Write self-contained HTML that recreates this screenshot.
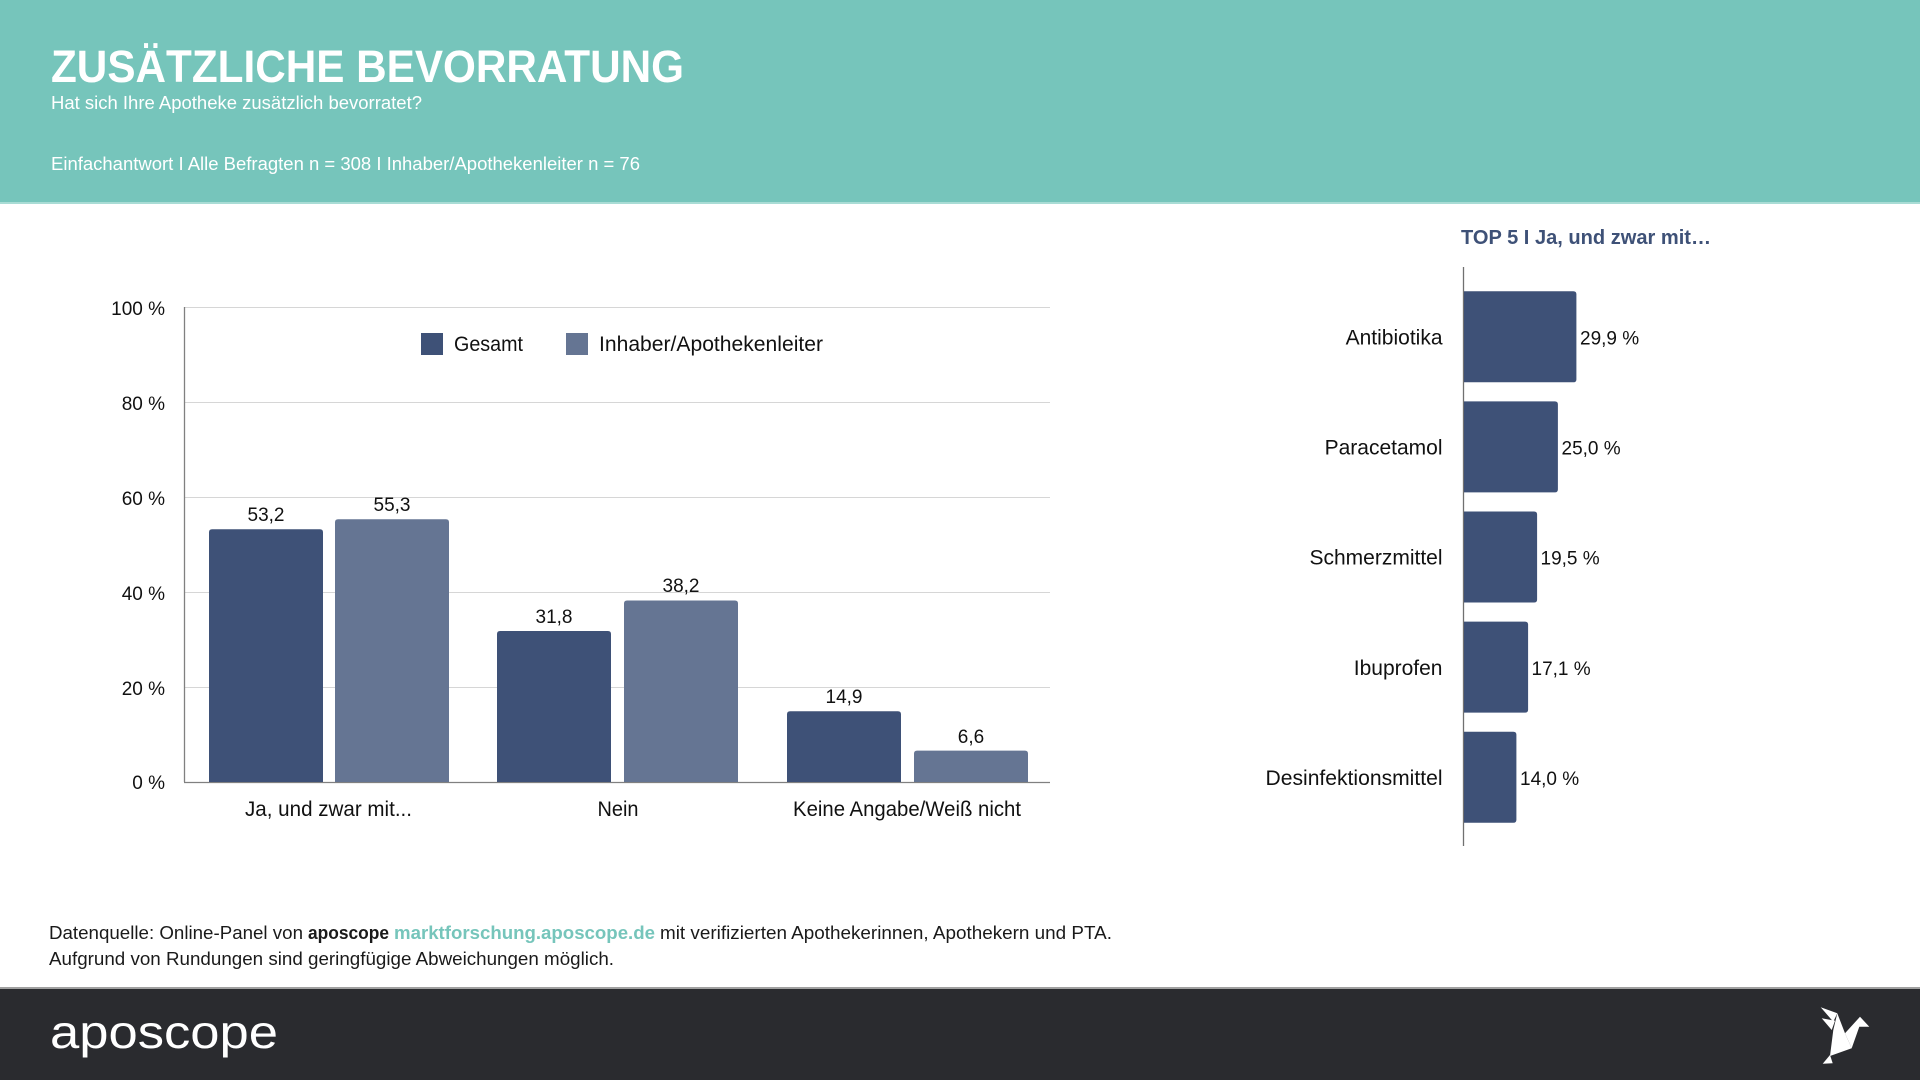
<!DOCTYPE html>
<html>
<head>
<meta charset="utf-8">
<style>
  html, body { margin:0; padding:0; background:#ffffff; }
  body { width:1920px; height:1080px; overflow:hidden; }
  svg { display:block; }
  text { font-family: "Liberation Sans", "DejaVu Sans", sans-serif; }
</style>
</head>
<body>
<svg width="1920" height="1080" viewBox="0 0 1920 1080" xmlns="http://www.w3.org/2000/svg">
  <!-- Header -->
  <rect x="0" y="0" width="1920" height="203" fill="#76C5BB"/>
  <rect x="0" y="202" width="1920" height="2" fill="#A9DCD5"/>
  <text x="51" y="82" font-size="45" font-weight="bold" fill="#ffffff" textLength="633" lengthAdjust="spacingAndGlyphs">ZUSÄTZLICHE BEVORRATUNG</text>
  <text x="51" y="109" font-size="18" fill="#ffffff" textLength="371" lengthAdjust="spacingAndGlyphs">Hat sich Ihre Apotheke zusätzlich bevorratet?</text>
  <text x="51" y="170" font-size="18" fill="#ffffff" textLength="589" lengthAdjust="spacingAndGlyphs">Einfachantwort I Alle Befragten n = 308 I Inhaber/Apothekenleiter n = 76</text>

  <!-- Left chart gridlines -->
  <g stroke="#d6d6d6" stroke-width="1">
    <line x1="184" y1="307.5" x2="1050" y2="307.5"/>
    <line x1="184" y1="402.5" x2="1050" y2="402.5"/>
    <line x1="184" y1="497.5" x2="1050" y2="497.5"/>
    <line x1="184" y1="592.5" x2="1050" y2="592.5"/>
    <line x1="184" y1="687.5" x2="1050" y2="687.5"/>
  </g>
  <!-- Axes -->
  <line x1="184.5" y1="307" x2="184.5" y2="782" stroke="#808080" stroke-width="1.3"/>
  <line x1="184" y1="782.5" x2="1050" y2="782.5" stroke="#808080" stroke-width="1.3"/>

  <!-- Tick labels -->
  <g font-size="19" fill="#111" text-anchor="end">
    <text x="165" y="315">100 %</text>
    <text x="165" y="410">80 %</text>
    <text x="165" y="505">60 %</text>
    <text x="165" y="600">40 %</text>
    <text x="165" y="695">20 %</text>
    <text x="165" y="789">0 %</text>
  </g>

  <!-- Legend -->
  <rect x="421" y="333" width="22" height="22" fill="#3E5177"/>
  <text x="454" y="351" font-size="21" fill="#111" textLength="69" lengthAdjust="spacingAndGlyphs">Gesamt</text>
  <rect x="566" y="333" width="22" height="22" fill="#657593"/>
  <text x="599" y="351" font-size="21" fill="#111" textLength="224" lengthAdjust="spacingAndGlyphs">Inhaber/Apothekenleiter</text>

  <!-- Bars (top-rounded) -->
  <g>
    <path d="M209,782 V532.3 Q209,529.3 212,529.3 H320 Q323,529.3 323,532.3 V782 Z" fill="#3E5177"/>
    <path d="M335,782 V522.3 Q335,519.3 338,519.3 H446 Q449,519.3 449,522.3 V782 Z" fill="#657593"/>
    <path d="M497,782 V634 Q497,631 500,631 H608 Q611,631 611,634 V782 Z" fill="#3E5177"/>
    <path d="M624,782 V603.5 Q624,600.5 627,600.5 H735 Q738,600.5 738,603.5 V782 Z" fill="#657593"/>
    <path d="M787,782 V714.2 Q787,711.2 790,711.2 H898 Q901,711.2 901,714.2 V782 Z" fill="#3E5177"/>
    <path d="M914,782 V753.6 Q914,750.6 917,750.6 H1025 Q1028,750.6 1028,753.6 V782 Z" fill="#657593"/>
  </g>

  <!-- Value labels -->
  <g font-size="19" fill="#111" text-anchor="middle">
    <text x="266" y="521">53,2</text>
    <text x="392" y="511">55,3</text>
    <text x="554" y="623">31,8</text>
    <text x="681" y="592">38,2</text>
    <text x="844" y="703">14,9</text>
    <text x="971" y="743">6,6</text>
  </g>

  <!-- X labels -->
  <g font-size="21" fill="#111" text-anchor="middle">
    <text x="328.5" y="816" textLength="167" lengthAdjust="spacingAndGlyphs">Ja, und zwar mit...</text>
    <text x="618" y="816" textLength="41" lengthAdjust="spacingAndGlyphs">Nein</text>
    <text x="907" y="816" textLength="228" lengthAdjust="spacingAndGlyphs">Keine Angabe/Weiß nicht</text>
  </g>

  <!-- Right chart -->
  <text x="1461" y="244" font-size="20" font-weight="bold" fill="#3E5177" textLength="250" lengthAdjust="spacingAndGlyphs">TOP 5 I Ja, und zwar mit…</text>
  <line x1="1463.5" y1="267" x2="1463.5" y2="846" stroke="#707070" stroke-width="1.3"/>
  <g fill="#3E5177">
    <path d="M1464,291.3 H1573.4 Q1576.4,291.3 1576.4,294.3 V379.3 Q1576.4,382.3 1573.4,382.3 H1464 Z"/>
    <path d="M1464,401.4 H1554.9 Q1557.9,401.4 1557.9,404.4 V489.4 Q1557.9,492.4 1554.9,492.4 H1464 Z"/>
    <path d="M1464,511.5 H1534.1 Q1537.1,511.5 1537.1,514.5 V599.5 Q1537.1,602.5 1534.1,602.5 H1464 Z"/>
    <path d="M1464,621.6 H1525.1 Q1528.1,621.6 1528.1,624.6 V709.6 Q1528.1,712.6 1525.1,712.6 H1464 Z"/>
    <path d="M1464,731.7 H1513.4 Q1516.4,731.7 1516.4,734.7 V819.7 Q1516.4,822.7 1513.4,822.7 H1464 Z"/>
  </g>
  <g font-size="21" fill="#111" text-anchor="end">
    <text x="1442.5" y="344.5">Antibiotika</text>
    <text x="1442.5" y="454.6">Paracetamol</text>
    <text x="1442.5" y="564.7">Schmerzmittel</text>
    <text x="1442.5" y="674.8">Ibuprofen</text>
    <text x="1442.5" y="785" textLength="177" lengthAdjust="spacingAndGlyphs">Desinfektionsmittel</text>
  </g>
  <g font-size="19" fill="#111">
    <text x="1580" y="344.5">29,9 %</text>
    <text x="1561.5" y="454.6">25,0 %</text>
    <text x="1540.5" y="564.7">19,5 %</text>
    <text x="1531.5" y="674.8">17,1 %</text>
    <text x="1520" y="785">14,0 %</text>
  </g>

  <!-- Footer source text -->
  <g font-size="18" fill="#1a1a1a">
    <text x="49" y="939" textLength="254" lengthAdjust="spacingAndGlyphs">Datenquelle: Online-Panel von</text>
    <text x="308" y="939" font-weight="bold" textLength="81" lengthAdjust="spacingAndGlyphs">aposcope</text>
    <text x="394" y="939" font-weight="bold" fill="#76C5BB" textLength="261" lengthAdjust="spacingAndGlyphs">marktforschung.aposcope.de</text>
    <text x="660" y="939" textLength="452" lengthAdjust="spacingAndGlyphs">mit verifizierten Apothekerinnen, Apothekern und PTA.</text>
    <text x="49" y="965" textLength="565" lengthAdjust="spacingAndGlyphs">Aufgrund von Rundungen sind geringfügige Abweichungen möglich.</text>
  </g>

  <!-- Dark footer -->
  <rect x="0" y="988" width="1920" height="92" fill="#2A2B2F"/>
  <rect x="0" y="987" width="1920" height="2" fill="#A0A0A0"/>
  <text x="50" y="1048" font-size="46" fill="#ffffff" textLength="228" lengthAdjust="spacingAndGlyphs">aposcope</text>

  <!-- Bird icon -->
  <g fill="#ffffff">
    <polygon points="1820.7,1007.3 1837.3,1013.3 1833.3,1021.7"/>
    <polygon points="1821.7,1018.3 1835,1020.7 1831.7,1030"/>
    <polygon points="1837.3,1013.3 1845,1033.3 1851.7,1048.3 1830,1056 1833.3,1030"/>
    <polygon points="1845,1033.3 1860,1016.7 1869.3,1026.7 1859.3,1026.7 1851.7,1048.3"/>
    <polygon points="1822.7,1063.7 1830,1055 1832.7,1063.3"/>
  </g>
</svg>
</body>
</html>
